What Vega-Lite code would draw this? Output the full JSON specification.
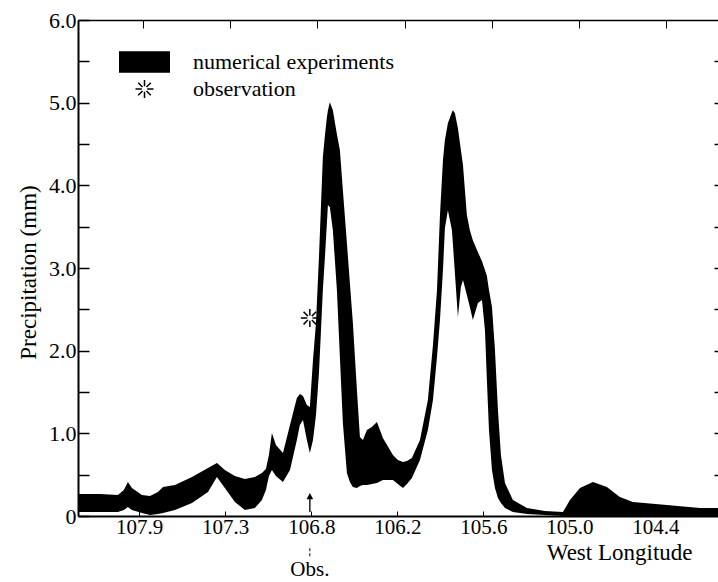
{
  "$schema": "https://vega.github.io/schema/vega-lite/v6.json",
  "width": 640,
  "height": 496,
  "autosize": {"type": "none"},
  "padding": {"left": 78, "top": 20, "right": 0, "bottom": 66},
  "background": "white",
  "config": {
    "view": {"stroke": null},
    "font": "Liberation Serif",
    "axis": {
      "labelFont": "Liberation Serif",
      "titleFont": "Liberation Serif",
      "labelColor": "black",
      "titleColor": "black",
      "domainColor": "black",
      "tickColor": "black",
      "grid": false,
      "titleFontWeight": "normal",
      "labelFlush": false,
      "labelOverlap": false
    }
  },
  "datasets": {
    "band": [
      {"lon": 108.328, "hi": 0.266, "lo": 0.048},
      {"lon": 108.181, "hi": 0.266, "lo": 0.048},
      {"lon": 108.061, "hi": 0.254, "lo": 0.048},
      {"lon": 108.021, "hi": 0.314, "lo": 0.073},
      {"lon": 107.994, "hi": 0.411, "lo": 0.109},
      {"lon": 107.967, "hi": 0.339, "lo": 0.073},
      {"lon": 107.900, "hi": 0.254, "lo": 0.036},
      {"lon": 107.846, "hi": 0.242, "lo": 0.012},
      {"lon": 107.793, "hi": 0.290, "lo": 0.024},
      {"lon": 107.759, "hi": 0.351, "lo": 0.036},
      {"lon": 107.679, "hi": 0.375, "lo": 0.073},
      {"lon": 107.565, "hi": 0.472, "lo": 0.157},
      {"lon": 107.458, "hi": 0.580, "lo": 0.290},
      {"lon": 107.398, "hi": 0.641, "lo": 0.472},
      {"lon": 107.345, "hi": 0.556, "lo": 0.339},
      {"lon": 107.278, "hi": 0.484, "lo": 0.169},
      {"lon": 107.211, "hi": 0.447, "lo": 0.073},
      {"lon": 107.144, "hi": 0.472, "lo": 0.097},
      {"lon": 107.097, "hi": 0.520, "lo": 0.193},
      {"lon": 107.070, "hi": 0.568, "lo": 0.314},
      {"lon": 107.050, "hi": 0.738, "lo": 0.484},
      {"lon": 107.030, "hi": 1.004, "lo": 0.556},
      {"lon": 107.003, "hi": 0.858, "lo": 0.484},
      {"lon": 106.956, "hi": 0.762, "lo": 0.411},
      {"lon": 106.909, "hi": 1.100, "lo": 0.556},
      {"lon": 106.863, "hi": 1.427, "lo": 0.919},
      {"lon": 106.843, "hi": 1.475, "lo": 1.100},
      {"lon": 106.822, "hi": 1.451, "lo": 1.161},
      {"lon": 106.796, "hi": 1.342, "lo": 0.919},
      {"lon": 106.776, "hi": 1.318, "lo": 0.762},
      {"lon": 106.755, "hi": 1.886, "lo": 0.919},
      {"lon": 106.735, "hi": 2.334, "lo": 1.221},
      {"lon": 106.715, "hi": 3.132, "lo": 1.729},
      {"lon": 106.702, "hi": 3.736, "lo": 2.225},
      {"lon": 106.689, "hi": 4.341, "lo": 2.733},
      {"lon": 106.675, "hi": 4.607, "lo": 3.132},
      {"lon": 106.662, "hi": 4.825, "lo": 3.543},
      {"lon": 106.655, "hi": 4.909, "lo": 3.761},
      {"lon": 106.642, "hi": 5.006, "lo": 3.736},
      {"lon": 106.622, "hi": 4.909, "lo": 3.458},
      {"lon": 106.595, "hi": 4.619, "lo": 2.733},
      {"lon": 106.575, "hi": 4.426, "lo": 1.923},
      {"lon": 106.555, "hi": 3.942, "lo": 1.124},
      {"lon": 106.528, "hi": 3.301, "lo": 0.520},
      {"lon": 106.508, "hi": 2.817, "lo": 0.411},
      {"lon": 106.488, "hi": 2.334, "lo": 0.351},
      {"lon": 106.461, "hi": 1.524, "lo": 0.339},
      {"lon": 106.441, "hi": 0.955, "lo": 0.363},
      {"lon": 106.421, "hi": 0.919, "lo": 0.375},
      {"lon": 106.394, "hi": 1.040, "lo": 0.375},
      {"lon": 106.361, "hi": 1.076, "lo": 0.387},
      {"lon": 106.327, "hi": 1.137, "lo": 0.399},
      {"lon": 106.287, "hi": 0.943, "lo": 0.435},
      {"lon": 106.220, "hi": 0.738, "lo": 0.435},
      {"lon": 106.187, "hi": 0.677, "lo": 0.387},
      {"lon": 106.153, "hi": 0.653, "lo": 0.339},
      {"lon": 106.126, "hi": 0.665, "lo": 0.387},
      {"lon": 106.093, "hi": 0.701, "lo": 0.459},
      {"lon": 106.039, "hi": 0.919, "lo": 0.677},
      {"lon": 105.986, "hi": 1.403, "lo": 1.040},
      {"lon": 105.952, "hi": 2.068, "lo": 1.403},
      {"lon": 105.925, "hi": 2.733, "lo": 1.923},
      {"lon": 105.905, "hi": 3.640, "lo": 2.370},
      {"lon": 105.885, "hi": 4.305, "lo": 2.975},
      {"lon": 105.872, "hi": 4.547, "lo": 3.482},
      {"lon": 105.852, "hi": 4.752, "lo": 3.700},
      {"lon": 105.825, "hi": 4.885, "lo": 3.458},
      {"lon": 105.818, "hi": 4.909, "lo": 3.277},
      {"lon": 105.805, "hi": 4.873, "lo": 2.938},
      {"lon": 105.785, "hi": 4.692, "lo": 2.406},
      {"lon": 105.765, "hi": 4.426, "lo": 2.769},
      {"lon": 105.751, "hi": 4.244, "lo": 2.854},
      {"lon": 105.725, "hi": 3.640, "lo": 2.672},
      {"lon": 105.705, "hi": 3.458, "lo": 2.527},
      {"lon": 105.685, "hi": 3.337, "lo": 2.370},
      {"lon": 105.651, "hi": 3.192, "lo": 2.576},
      {"lon": 105.624, "hi": 3.083, "lo": 2.612},
      {"lon": 105.604, "hi": 2.975, "lo": 2.249},
      {"lon": 105.591, "hi": 2.902, "lo": 1.644},
      {"lon": 105.577, "hi": 2.733, "lo": 1.040},
      {"lon": 105.557, "hi": 2.527, "lo": 0.556},
      {"lon": 105.537, "hi": 2.007, "lo": 0.339},
      {"lon": 105.517, "hi": 1.282, "lo": 0.218},
      {"lon": 105.497, "hi": 0.738, "lo": 0.157},
      {"lon": 105.470, "hi": 0.399, "lo": 0.097},
      {"lon": 105.417, "hi": 0.193, "lo": 0.048},
      {"lon": 105.323, "hi": 0.097, "lo": 0.024},
      {"lon": 105.203, "hi": 0.060, "lo": 0.012},
      {"lon": 105.082, "hi": 0.048, "lo": 0.0},
      {"lon": 105.035, "hi": 0.193, "lo": 0.0},
      {"lon": 104.968, "hi": 0.339, "lo": 0.0},
      {"lon": 104.881, "hi": 0.411, "lo": 0.0},
      {"lon": 104.788, "hi": 0.351, "lo": 0.0},
      {"lon": 104.701, "hi": 0.230, "lo": 0.0},
      {"lon": 104.614, "hi": 0.169, "lo": 0.0},
      {"lon": 104.386, "hi": 0.133, "lo": 0.0},
      {"lon": 104.165, "hi": 0.097, "lo": 0.0},
      {"lon": 104.044, "hi": 0.097, "lo": 0.0}
    ],
    "obs": [
      {"lon": 106.776, "val": 2.394, "series": "observation"}
    ],
    "arrow": [
      {"lon": 106.776, "val": 0.163}
    ],
    "obsnote": [
      {"lon": 106.776, "val": -0.653, "v1": -0.39, "v2": -0.5, "label": "Obs."}
    ]
  },
  "layer": [
    {
      "data": {"name": "band"},
      "mark": {"type": "area", "color": "black", "opacity": 1, "interpolate": "linear"},
      "encoding": {
        "x": {
          "field": "lon",
          "type": "quantitative",
          "scale": {"domain": [108.328, 104.044], "nice": false, "zero": false},
          "axis": {
            "orient": "bottom",
            "values": [107.9181, 107.3425, 106.7662, 106.1905, 105.6142, 105.0386, 104.463],
            "labelExpr": "datum.value > 107.6 ? '107.9' : datum.value > 107.0 ? '107.3' : datum.value > 106.4 ? '106.8' : datum.value > 105.9 ? '106.2' : datum.value > 105.3 ? '105.6' : datum.value > 104.7 ? '105.0' : '104.4'",
            "labelFontSize": 21,
            "labelBaseline": "top",
            "labelPadding": 5,
            "tickSize": -5,
            "tickWidth": 1,
            "domainWidth": 2,
            "title": "West Longitude",
            "titleFontSize": 23,
            "titleX": 614,
            "titleY": 25,
            "titleAlign": "right",
            "titleBaseline": "top",
            "titleAnchor": null
          }
        },
        "y": {
          "field": "hi",
          "type": "quantitative",
          "scale": {"domain": [0, 6], "nice": false, "zero": false},
          "axis": {
            "orient": "left",
            "values": [0, 0.5, 1, 1.5, 2, 2.5, 3, 3.5, 4, 4.5, 5, 5.5, 6],
            "labelExpr": "datum.value % 1 != 0 ? '' : datum.value == 0 ? '0' : format(datum.value, '.1f')",
            "labelFontSize": 22,
            "labelPadding": 13,
            "labelBaseline": "middle",
            "tickSize": -11,
            "tickWidth": 1.5,
            "domainWidth": 2,
            "title": "Precipitation (mm)",
            "titleFontSize": 23,
            "titleAngle": -90,
            "titleX": -50,
            "titleY": 252,
            "titleAlign": "center",
            "titleBaseline": "middle",
            "titleAnchor": null
          }
        },
        "y2": {"field": "lo"}
      }
    },
    {
      "data": {"name": "obs"},
      "mark": {"type": "point", "filled": true, "stroke": "black", "opacity": 1, "strokeWidth": 1.5, "size": 324},
      "encoding": {
        "x": {
          "field": "lon",
          "type": "quantitative",
          "axis": {
            "orient": "top",
            "values": [107.89, 107.3077, 106.7254, 106.1424, 105.56, 104.977, 104.3947],
            "labels": false,
            "tickSize": -8,
            "tickWidth": 1,
            "domainWidth": 1.5,
            "title": null
          }
        },
        "y": {
          "field": "val",
          "type": "quantitative",
          "axis": {
            "orient": "right",
            "values": [0.5, 1, 1.5, 2, 2.5, 3, 3.5, 4, 4.5, 5, 5.5],
            "labels": false,
            "domain": false,
            "tickSize": -4,
            "tickWidth": 1.5,
            "title": null
          }
        },
        "shape": {
          "field": "series",
          "type": "nominal",
          "scale": {
            "domain": ["numerical experiments", "observation"],
            "range": [
              "M-2.75,-1.1H2.75V1.1H-2.75Z",
              "M0,-1V-0.3M0,0.3V1M-1,0H-0.3M0.3,0H1M-0.7,-0.7L-0.22,-0.22M0.22,0.22L0.7,0.7M0.7,-0.7L0.22,-0.22M-0.22,0.22L-0.7,0.7"
            ]
          },
          "legend": {
            "orient": "none",
            "legendX": 55.5,
            "legendY": 31,
            "title": null,
            "labelFont": "Liberation Serif",
            "labelFontSize": 22,
            "labelColor": "black",
            "labelLimit": 0,
            "labelOffset": 37.5,
            "symbolSize": 324,
            "symbolOpacity": 1,
            "symbolFillColor": "black",
            "symbolStrokeColor": "black",
            "symbolStrokeWidth": 1.5,
            "rowPadding": 2,
            "padding": 0
          }
        },
        "color": {
          "field": "series",
          "type": "nominal",
          "scale": {
            "domain": ["numerical experiments", "observation"],
            "range": ["black", "black"]
          },
          "legend": {
            "orient": "none",
            "legendX": 55.5,
            "legendY": 31,
            "title": null,
            "labelFont": "Liberation Serif",
            "labelFontSize": 22,
            "labelColor": "black",
            "labelLimit": 0,
            "labelOffset": 37.5,
            "symbolSize": 324,
            "symbolOpacity": 1,
            "symbolFillColor": "black",
            "symbolStrokeColor": "black",
            "symbolStrokeWidth": 1.5,
            "rowPadding": 2,
            "padding": 0
          }
        }
      }
    },
    {
      "data": {"name": "arrow"},
      "mark": {
        "type": "point",
        "filled": true,
        "color": "black",
        "opacity": 1,
        "size": 361,
        "shape": "M0,-1L0.35,-0.35L0.07,-0.35L0.07,1L-0.07,1L-0.07,-0.35L-0.35,-0.35Z"
      },
      "encoding": {
        "x": {"field": "lon", "type": "quantitative", "axis": null},
        "y": {"field": "val", "type": "quantitative", "axis": null}
      }
    },
    {
      "data": {"name": "obsnote"},
      "mark": {"type": "rule", "color": "black", "strokeWidth": 1, "strokeDash": [3, 2], "clip": false},
      "encoding": {
        "x": {"field": "lon", "type": "quantitative", "axis": null},
        "y": {"field": "v1", "type": "quantitative", "axis": null},
        "y2": {"field": "v2"}
      }
    },
    {
      "data": {"name": "obsnote"},
      "mark": {"type": "text", "color": "black", "font": "Liberation Serif", "fontSize": 21, "align": "center", "baseline": "middle", "clip": false},
      "encoding": {
        "x": {"field": "lon", "type": "quantitative", "axis": null},
        "y": {"field": "val", "type": "quantitative", "axis": null},
        "text": {"field": "label"}
      }
    }
  ]
}
